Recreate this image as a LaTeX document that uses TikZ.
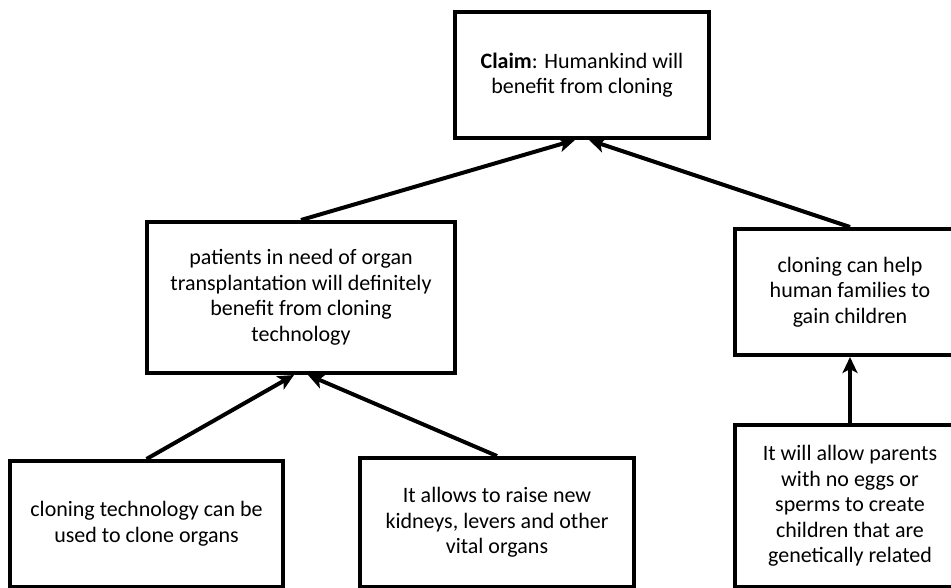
\documentclass[tikz,border=0pt]{standalone}
\usepackage{fontspec}
\setmainfont{Carlito}
\usetikzlibrary{arrows.meta}

\tikzset{
  argbox/.style={draw=black, line width=4pt, fill=white, align=center,
    inner sep=0pt, font=\fontsize{22pt}{25.5pt}\selectfont},
  support/.style={line width=4pt,
    -{Stealth[length=16pt, width=15pt, inset=4pt]}}
}

\begin{document}
\begin{tikzpicture}[x=1pt, y=1pt]
  \useasboundingbox (0,0) rectangle (951,-588);
  \clip (0,0) rectangle (951,-588);

  % claim at the top
  \node[argbox, minimum width=254pt, minimum height=126pt] (claim) at (582,-75)
    {\textbf{Claim}: Humankind will\\benefit from cloning};

  % first-level reasons
  \node[argbox, minimum width=308pt, minimum height=151pt] (organs) at (301,-297.5)
    {patients in need of organ\\transplantation will definitely\\benefit from cloning\\technology};
  \node[argbox, minimum width=230pt, minimum height=126pt] (families) at (850,-292)
    {cloning can help\\human families to\\gain children};

  % supporting evidence
  \node[argbox, minimum width=273pt, minimum height=126pt] (cloneorg) at (146.5,-524)
    {cloning technology can be\\used to clone organs};
  \node[argbox, minimum width=274pt, minimum height=129pt] (raise) at (497,-522.5)
    {It allows to raise new\\kidneys, levers and other\\vital organs};
  \node[argbox, minimum width=230pt, minimum height=162pt] (parents) at (850,-506)
    {It will allow parents\\with no eggs or\\sperms to create\\children that are\\genetically related};

  % support arrows
  \draw[support] (organs.north) -- ([xshift=-7pt]claim.south);
  \draw[support] (families.north) -- ([xshift=7pt]claim.south);
  \draw[support] (cloneorg.north) -- ([xshift=-7pt]organs.south);
  \draw[support] (raise.north) -- ([xshift=7pt]organs.south);
  \draw[support] (parents.north) -- (families.south);
\end{tikzpicture}
\end{document}
